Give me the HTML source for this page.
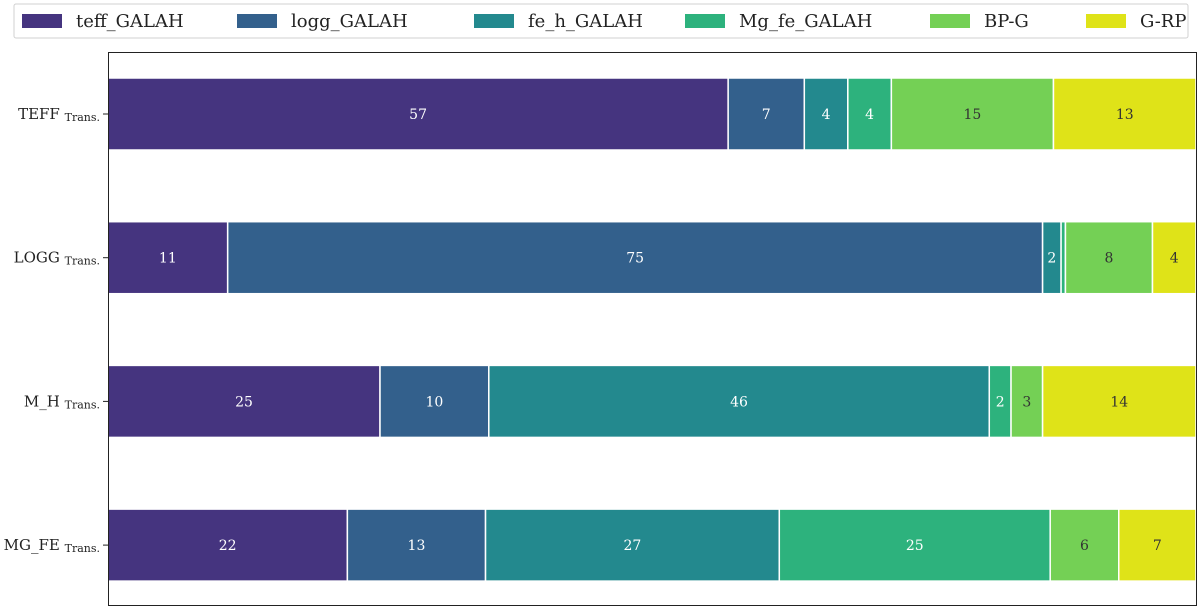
<!DOCTYPE html>
<html><head><meta charset="utf-8"><style>
body{margin:0;background:#fff;}
svg text{font-family:"DejaVu Serif","Liberation Serif",serif;}
</style></head><body>
<svg id="chart" width="1200" height="611" xmlns="http://www.w3.org/2000/svg">
<rect x="14" y="4" width="1174" height="34" fill="#fff" stroke="#d0d0d0" rx="2"/>
<g id="legend"></g>
<g id="bars"></g>
<g id="yaxis"></g>
<rect x="108.5" y="52.5" width="1088" height="553" fill="none" stroke="#222" stroke-width="1"/>
</svg>
<script>
const categories = ["TEFF", "LOGG", "M_H", "MG_FE"];
const seriesNames = ["teff_GALAH", "logg_GALAH", "fe_h_GALAH", "Mg_fe_GALAH", "BP-G", "G-RP"];
const teffValues = [57.0, 11.0, 25.0, 22.0];
const loggValues = [7.0, 74.9, 10.0, 12.7];
const fehValues = [4.0, 1.7, 46.0, 27.0];
const mgfeValues = [4.0, 0.4, 2.0, 24.9];
const bpgValues = [14.9, 8.0, 2.9, 6.3];
const grpValues = [13.1, 4.0, 14.1, 7.1];
const series = [teffValues, loggValues, fehValues, mgfeValues, bpgValues, grpValues];
const colors = ["#45347f", "#33608c", "#23898e", "#2db27d", "#74d055", "#dfe318"];
const textColors = ["#fff", "#fff", "#fff", "#fff", "#333", "#333"];

const NS = "http://www.w3.org/2000/svg";
const x0 = 108, plotW = 1088;
const xScale = v => x0 + v / 100 * plotW;
const yCenter = i => 114 + i * 143.7;
const barH = 72;
function mk(tag, attrs, parent){const e=document.createElementNS(NS,tag);for(const k in attrs)e.setAttribute(k,attrs[k]);parent.appendChild(e);return e;}

const bars = document.getElementById("bars");
categories.forEach((cat, i) => {
  let cum = 0;
  series.forEach((vals, s) => {
    const v = vals[i];
    const xa = xScale(cum), xb = xScale(cum + v);
    const r = mk("rect", {x: xa, y: yCenter(i) - barH/2, width: xb - xa, height: barH, fill: colors[s], stroke: "#fff", "stroke-width": 1.5}, bars);
    
    
    if (v >= 1) {
      const t = mk("text", {x: (xa + xb) / 2, y: yCenter(i) + 5, "text-anchor": "middle", "font-size": 14, fill: textColors[s]}, bars);
      t.textContent = Math.round(v);
      
      
    }
    cum += v;
  });
});

const yaxis = document.getElementById("yaxis");
categories.forEach((cat, i) => {
  const tk = mk("line", {x1: 103, x2: 108, y1: yCenter(i), y2: yCenter(i), stroke: "#222"}, yaxis);
  
  
  const t = mk("text", {x: 100, y: yCenter(i) + 5, "text-anchor": "end", "font-size": 15, fill: "#222"}, yaxis);
  
  
  const a = mk("tspan", {}, t); a.textContent = cat + " ";
  const b = mk("tspan", {"font-size": 11, dy: 2}, t); b.textContent = "Trans.";
});

const legend = document.getElementById("legend");
const lx = [22, 237, 474, 685, 930, 1086];
seriesNames.forEach((n, s) => {
  const p = mk("rect", {x: lx[s], y: 14, width: 40, height: 14, fill: colors[s]}, legend);
  
  
  const t = mk("text", {x: lx[s] + 54, y: 27, "font-size": 18, fill: "#222"}, legend);
  t.textContent = n;
  
  
});
</script>
</body></html>
